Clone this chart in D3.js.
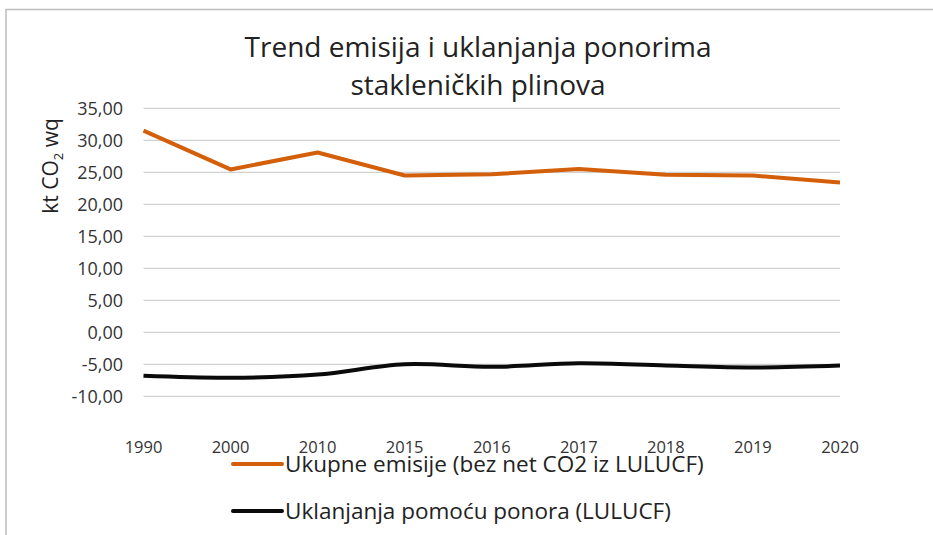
<!DOCTYPE html>
<html lang="hr">
<head>
<meta charset="utf-8">
<title>Trend emisija</title>
<script src="https://d3js.org/d3.v7.min.js"></script>
<style>
  body { margin: 0; background: #fff; }
  text { font-family: "Open Sans", "Liberation Sans", sans-serif; fill: #222; }
  .grid line { stroke: #d0d0d0; stroke-width: 1.3; }
  .ticks text { font-size: 18px; fill: #333; }
  .title { font-size: 28px; }
</style>
</head>
<body>
<div id="chart"></div>
<script>
const w = 933, h = 535;

const years = ["1990", "2000", "2010", "2015", "2016", "2017", "2018", "2019", "2020"];
const emisije = [31.5, 25.45, 28.1, 24.5, 24.7, 25.5, 24.6, 24.5, 23.4];
const uklanjanja = [-6.8, -7.1, -6.6, -5.0, -5.4, -4.85, -5.2, -5.5, -5.2];
const yTicks = [35, 30, 25, 20, 15, 10, 5, 0, -5, -10];
const seriesNames = ["Ukupne emisije (bez net CO2 iz LULUCF)", "Uklanjanja pomoću ponora (LULUCF)"];
const seriesColors = ["#d35f0a", "#0a0a0a"];

const svg = d3.select("#chart").append("svg")
  .attr("width", w).attr("height", h);

// outer chart frame (only top and left edges are visible in the crop)
svg.append("path")
  .attr("d", "M6,535 V9.5 H933")
  .attr("fill", "none").attr("stroke", "#bdbdbd").attr("stroke-width", 1.5);

const x = d3.scalePoint().domain(years).range([143.5, 840]);
const y = d3.scaleLinear().domain([-10, 35]).range([396.3, 108.3]);

// gridlines
svg.append("g").attr("class", "grid")
  .selectAll("line").data(yTicks).join("line")
  .attr("x1", 143.5).attr("x2", 840)
  .attr("y1", d => y(d)).attr("y2", d => y(d));

const fmt = d => d3.format(".2f")(d).replace(".", ",").replace("−", "-");

// y tick labels
svg.append("g").attr("class", "ticks")
  .selectAll("text").data(yTicks).join("text")
  .attr("x", 123).attr("y", d => y(d))
  .attr("dy", "0.35em").attr("text-anchor", "end")
  .text(fmt);

// x tick labels
svg.append("g").attr("class", "ticks")
  .selectAll("text").data(years).join("text")
  .attr("x", d => x(d)).attr("y", 453)
  .attr("text-anchor", "middle")
  .style("font-size", "16.5px")
  .text(d => d);

// y axis title
const yt = svg.append("text")
  .attr("transform", "translate(58,166) rotate(-90)")
  .attr("text-anchor", "middle")
  .style("font-size", "21px");
yt.append("tspan").text("kt CO");
yt.append("tspan").attr("dy", 5).style("font-size", "13px").text("2");
yt.append("tspan").attr("dy", -5).text(" wq");

// title
svg.append("text").attr("class", "title")
  .attr("x", 478).attr("y", 57).attr("text-anchor", "middle")
  .text("Trend emisija i uklanjanja ponorima");
svg.append("text").attr("class", "title")
  .attr("x", 478).attr("y", 95).attr("text-anchor", "middle")
  .text("stakleničkih plinova");

// lines
const lineStraight = d3.line().x((d, i) => x(years[i])).y(d => y(d));
const lineSmooth = d3.line().x((d, i) => x(years[i])).y(d => y(d)).curve(d3.curveCatmullRom);

svg.append("path").datum(emisije)
  .attr("fill", "none").attr("stroke", seriesColors[0])
  .attr("stroke-width", 4).attr("stroke-linejoin", "round")
  .attr("d", lineStraight);

svg.append("path").datum(uklanjanja)
  .attr("fill", "none").attr("stroke", seriesColors[1])
  .attr("stroke-width", 4).attr("stroke-linejoin", "round")
  .attr("d", lineSmooth);

// legend
const legend = svg.append("g").selectAll("g").data(seriesNames).join("g")
  .attr("transform", (d, i) => `translate(233,${464 + i * 47})`);
legend.append("line")
  .attr("x1", 0).attr("x2", 49).attr("y1", 0).attr("y2", 0)
  .attr("stroke", (d, i) => seriesColors[i]).attr("stroke-width", 4)
  .attr("stroke-linecap", "round");
legend.append("text")
  .attr("x", 52).attr("y", 0).attr("dy", "0.35em")
  .style("font-size", "22.5px")
  .text(d => d);
</script>
</body>
</html>
